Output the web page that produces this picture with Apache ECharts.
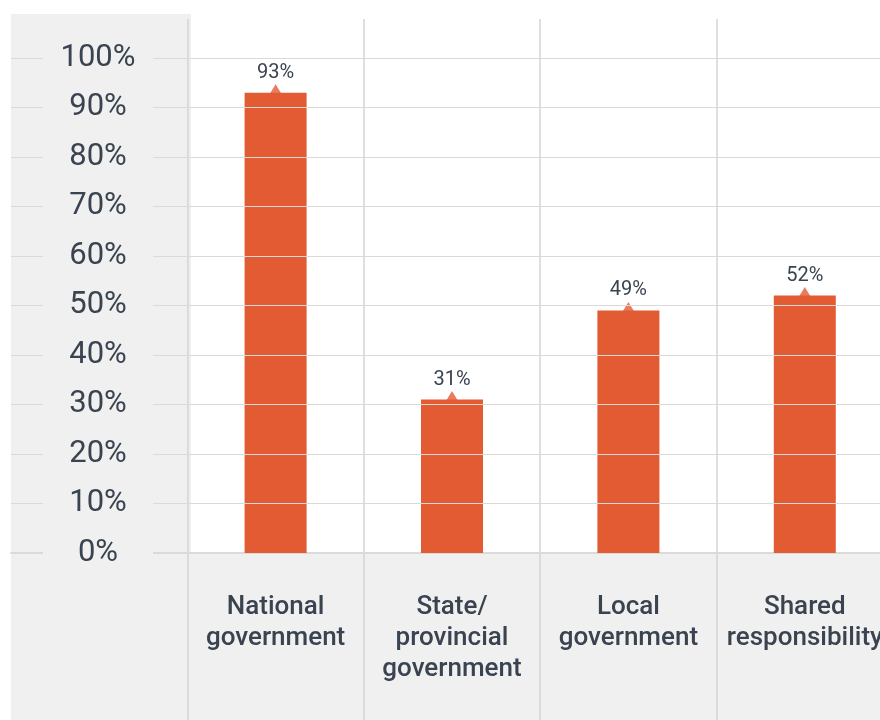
<!DOCTYPE html>
<html>
<head>
<meta charset="utf-8">
<script src="https://cdn.jsdelivr.net/npm/echarts@6/dist/echarts.min.js"></script>
<style>
html,body{margin:0;padding:0;background:#fff;overflow:hidden;}
#c{width:895px;height:720px;}
</style>
</head>
<body>
<div id="c"></div>
<script>
// First category is the empty label panel column
const categories = ['', 'National\ngovernment', 'State/\nprovincial\ngovernment', 'Local\ngovernment', 'Shared\nresponsibility'];
const values = ['-', 93, 31, 49, 52];
const yMin = 0, yMax = 100, yStep = 10;

const BAR = '#e25b33';
const TXT = '#3a4350';
const PANEL = '#f0f0f0';

const chart = echarts.init(document.getElementById('c'), null, {renderer: 'canvas'});
chart.setOption({
  animation: false,
  backgroundColor: '#ffffff',
  textStyle: {fontFamily: 'Roboto'},
  graphic: [
    {type: 'rect', z: -100, silent: true, shape: {x: 11, y: 14, width: 180, height: 706}, style: {fill: PANEL}},
    {type: 'rect', z: -100, silent: true, shape: {x: 11, y: 553, width: 884, height: 167}, style: {fill: PANEL}}
  ],
  grid: [
    {left: 11, right: 2, top: 58, bottom: 167, containLabel: false},
    {left: 11, right: 2, top: 19, bottom: 0, containLabel: false}
  ],
  xAxis: [
    {
      type: 'category', gridIndex: 0, data: categories,
      axisLine: {show: true, lineStyle: {color: '#dadada', width: 2}},
      axisTick: {show: false},
      splitLine: {show: false},
      axisLabel: {
        interval: 0, margin: 39, color: TXT, fontSize: 26, fontWeight: 500,
        lineHeight: 31, fontFamily: 'Roboto', align: 'center', verticalAlign: 'top'
      }
    },
    {
      type: 'category', gridIndex: 1, data: categories,
      axisLine: {show: false}, axisTick: {show: false}, axisLabel: {show: false},
      splitLine: {show: true, interval: 0, lineStyle: {color: ['rgba(0,0,0,0)', '#d4d4d4', '#d4d4d4', '#d4d4d4', '#d4d4d4', '#d4d4d4'], width: 1.5}}
    }
  ],
  yAxis: [
    {
      type: 'value', gridIndex: 0, min: yMin, max: yMax, interval: yStep,
      axisLine: {show: false}, axisTick: {show: false},
      splitLine: {show: true, lineStyle: {color: '#dadada', width: 1.2}},
      axisLabel: {
        inside: true, margin: 87, align: 'center', verticalAlign: 'middle',
        width: 110, backgroundColor: PANEL, padding: [4, 0, 0, 0],
        color: TXT, fontSize: 31, fontFamily: 'Roboto',
        formatter: v => v + '%'
      },
      z: 3
    },
    {type: 'value', gridIndex: 1, show: false, min: 0, max: 1}
  ],
  series: [
    {
      type: 'bar', xAxisIndex: 0, yAxisIndex: 0, data: values,
      barWidth: 62, itemStyle: {color: BAR},
      label: {
        show: true, position: 'top', distance: 10, color: TXT, fontSize: 20,
        fontFamily: 'Roboto', formatter: p => p.value + '%'
      },
      z: 2
    },
    {
      type: 'scatter', xAxisIndex: 0, yAxisIndex: 0, data: values,
      symbol: 'triangle', symbolSize: [11, 9], symbolOffset: [0, -4],
      itemStyle: {color: BAR}, silent: true, z: 2
    }
  ]
});
</script>
</body>
</html>
